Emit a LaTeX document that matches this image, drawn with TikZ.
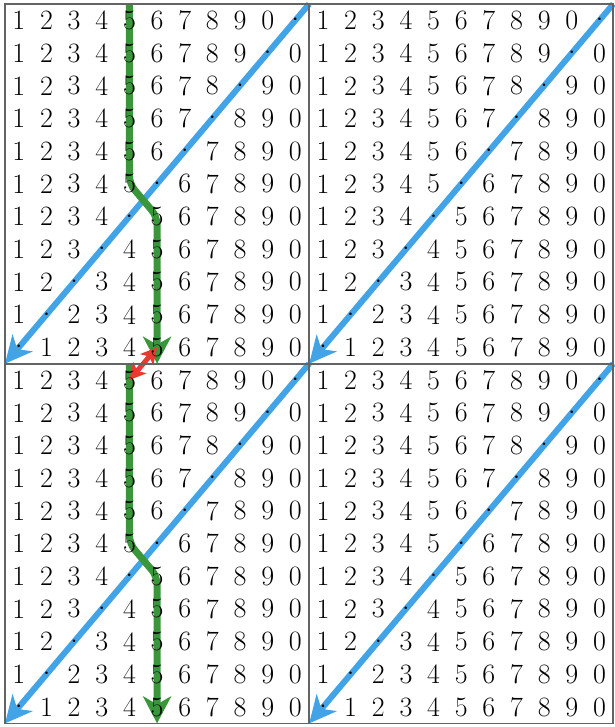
\documentclass[tikz,border=0pt]{standalone}
\usetikzlibrary{arrows.meta}
\pgfdeclarelayer{sfondo}
\pgfsetlayers{sfondo,main}

\definecolor{celeste}{RGB}{66,164,230}
\definecolor{verdescuro}{RGB}{58,150,58}
\definecolor{rosso}{RGB}{232,58,48}
\definecolor{cornice}{RGB}{100,100,100}

\begin{document}
\begin{tikzpicture}[x=1pt, y=-1pt,
  cifra/.style={inner sep=0pt, font=\fontsize{28}{32}\selectfont},
  bordo/.style={draw=cornice, line width=1.8pt},
  diagonale/.style={celeste, line width=6pt, -{Stealth[length=27pt, width=26pt, inset=8pt]}},
  percorso/.style={verdescuro, line width=7pt, rounded corners=8pt, -{Stealth[length=27pt, width=28pt, inset=8pt]}},
  salto/.style={rosso, line width=5pt, {Stealth[length=16pt, width=17pt, inset=4pt]}-{Stealth[length=16pt, width=17pt, inset=4pt]}}]

  \useasboundingbox (0,0) rectangle (614,727);

  % --- quattro blocchi di cifre (il punto scorre in diagonale) ---
  \foreach \q/\ox/\oy in {a/5/4, b/309.15/4, c/5/363.7, d/309.15/363.7} {
    \draw[bordo] (\ox,\oy) rectangle ++(304.15,359.7);
    \coordinate (\q-ne) at (\ox+304.15,\oy);
    \coordinate (\q-sw) at (\ox,\oy+359.7);
    \foreach \r in {0,...,10} {
      \pgfmathtruncatemacro{\p}{10-\r} % colonna del punto
      \foreach \c in {0,...,10} {
        \pgfmathtruncatemacro{\v}{\c<\p ? mod(\c+1,10) : mod(\c,10)}
        \ifnum\c=\p
          \node[cifra] (\q-\r-\c) at (\ox+13.825+27.65*\c, \oy+16.35+32.7*\r) {$\cdot$};
        \else
          \node[cifra] (\q-\r-\c) at (\ox+13.825+27.65*\c, \oy+16.35+32.7*\r) {\v};
        \fi
      }
    }
  }

  % --- frecce sotto le cifre ---
  \begin{pgfonlayer}{sfondo}
    % diagonali blu
    \foreach \q in {a,b,c,d}
      \draw[diagonale] (\q-ne) -- (\q-sw);
    % colonna del 5 (verde)
    \foreach \q in {a,c}
      \draw[percorso] (\q-0-4 |- \q-ne) -- (\q-5-4.center) -- (\q-6-5.center) -- (\q-6-5 |- \q-sw);
    % salto tra i blocchi (rosso)
    \draw[salto] (a-10-5.center) -- (c-0-4.center);
  \end{pgfonlayer}

\end{tikzpicture}
\end{document}
